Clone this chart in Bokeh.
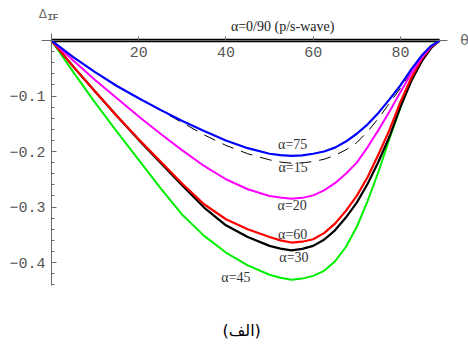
from bokeh.plotting import figure
from bokeh.models import FixedTicker, Range1d
from bokeh.core.properties import value
from bokeh.embed import file_html
from bokeh.resources import INLINE

# ---- data ----
theta = [0, 5, 10, 15, 20, 25, 30, 35, 40, 45, 50, 52.5, 55, 57.5, 60, 62.5, 65, 67.5,
         70, 72.5, 75, 77.5, 80, 82.5, 85, 87, 89]
d_a75 = [0, -0.030, -0.057, -0.082, -0.104, -0.125, -0.145, -0.163, -0.180, -0.194,
         -0.204, -0.2065, -0.208, -0.207, -0.204, -0.200, -0.193, -0.182, -0.168,
         -0.151, -0.130, -0.106, -0.081, -0.052, -0.026, -0.010, 0]
d_a15 = [0, -0.030, -0.057, -0.082, -0.104, -0.126, -0.148, -0.170, -0.189, -0.204,
         -0.215, -0.219, -0.221, -0.2205, -0.218, -0.214, -0.207, -0.197, -0.184,
         -0.164, -0.140, -0.113, -0.086, -0.057, -0.030, -0.012, 0]
d_a20 = [0, -0.036, -0.071, -0.104, -0.137, -0.168, -0.198, -0.226, -0.250, -0.268,
         -0.280, -0.283, -0.285, -0.2835, -0.279, -0.270, -0.257, -0.240, -0.220,
         -0.192, -0.161, -0.128, -0.093, -0.059, -0.030, -0.011, 0]
d_a60 = [0, -0.047, -0.092, -0.136, -0.178, -0.218, -0.258, -0.295, -0.322, -0.340,
         -0.354, -0.360, -0.364, -0.3625, -0.358, -0.347, -0.330, -0.307, -0.280,
         -0.246, -0.205, -0.161, -0.111, -0.067, -0.032, -0.012, 0]
d_a30 = [0, -0.047, -0.092, -0.136, -0.179, -0.220, -0.261, -0.301, -0.333, -0.354,
         -0.370, -0.375, -0.378, -0.3755, -0.370, -0.359, -0.342, -0.319, -0.292,
         -0.258, -0.218, -0.173, -0.120, -0.073, -0.036, -0.014, 0]
d_a45 = [0, -0.057, -0.112, -0.164, -0.215, -0.266, -0.314, -0.352, -0.382, -0.405,
         -0.422, -0.4275, -0.431, -0.429, -0.424, -0.415, -0.398, -0.372, -0.336,
         -0.289, -0.236, -0.177, -0.121, -0.070, -0.029, -0.010, 0]
d_a0 = [0] * len(theta)

x_ticks = [20, 40, 60, 80]
y_ticks = [-0.4, -0.3, -0.2, -0.1, 0]
y_minor = [round(-0.44 + 0.02 * i, 2) for i in range(23)]

labels = ["α=75", "α=15", "α=20", "α=60", "α=30", "α=45"]

# ---- figure ----
p = figure(width=468, height=344, output_backend="svg", toolbar_location=None,
           x_range=Range1d(-11.69, 95.62), y_range=Range1d(-0.5477, 0.0721),
           min_border_left=0, min_border_right=0, min_border_top=0, min_border_bottom=0)
p.outline_line_color = None
p.grid.visible = False
p.background_fill_color = "white"
p.border_fill_color = "white"

axis_col = "#6b6b6b"
lab_col = "#555555"
mono = "Liberation Mono"

xa = p.xaxis[0]
xa.fixed_location = 0
xa.bounds = (-2.3, 90.8)
xa.ticker = FixedTicker(ticks=x_ticks)
xa.axis_line_color = axis_col
xa.major_tick_line_color = axis_col
xa.major_tick_in = 4
xa.major_tick_out = 0
xa.minor_tick_line_color = None
xa.major_label_text_font = mono
xa.major_label_text_font_size = "15px"
xa.major_label_text_color = lab_col
xa.major_label_standoff = 6

ya = p.yaxis[0]
ya.fixed_location = 0
ya.bounds = (-0.441, 0.0126)
ya.ticker = FixedTicker(ticks=y_ticks, minor_ticks=y_minor)
ya.major_label_overrides = {0: ""}
ya.axis_line_color = axis_col
ya.major_tick_line_color = axis_col
ya.minor_tick_line_color = axis_col
ya.major_tick_in = 5
ya.major_tick_out = 0
ya.minor_tick_in = 3
ya.minor_tick_out = 0
ya.major_label_text_font = mono
ya.major_label_text_font_size = "15px"
ya.major_label_text_color = lab_col
ya.major_label_standoff = 6

# ---- curves ----
p.line(theta, d_a0, line_color="black", line_width=3.5)
p.line(theta, d_a15, line_color="black", line_width=1, line_dash="12 8")
p.line(theta, d_a45, line_color="#00ee00", line_width=2)
p.line(theta, d_a30, line_color="black", line_width=2.2)
p.line(theta, d_a60, line_color="#ff0000", line_width=2.2)
p.line(theta, d_a20, line_color="#ff00ff", line_width=2)
p.line(theta, d_a75, line_color="#0000ff", line_width=2.2)

serif = value("Liberation Serif")
p.text(x=[55.3, 55.4, 55.2, 55.3, 55.6, 42.3],
       y=[-0.1865, -0.228, -0.297, -0.3495, -0.391, -0.427],
       text=labels, text_font=serif, text_font_size="14px", text_color="#333333",
       text_align="center", text_baseline="middle")

p.text(x=[53.0], y=[0.0252], text=["α=0/90 (p/s-wave)"], text_font=serif,
       text_font_size="14px", text_color="#222222", text_align="center",
       text_baseline="middle")

# axis titles
p.text(x=[-1.95], y=[0.0477], text=["Δ"], text_font=value("DejaVu Sans"),
       text_font_size="12px", text_color="#666666", text_align="center",
       text_baseline="middle")
p.text(x=[-0.92], y=[0.0414], text=["IF"], text_font=value(mono),
       text_font_size="9px", text_color="#666666", text_align="left",
       text_baseline="middle", text_font_style="bold")
p.text(x=[94.7], y=[0.0018], text=["θ"], text_font=value("DejaVu Sans"),
       text_font_size="14px", text_color="#666666", text_align="center",
       text_baseline="middle")

# caption
p.text(x=[43.6], y=[-0.5225], text=["(الف)"], text_font=value("DejaVu Sans"),
       text_font_size="16px", text_color="black", text_align="center",
       text_baseline="middle")

open("out.html", "w").write(file_html(p, INLINE))
